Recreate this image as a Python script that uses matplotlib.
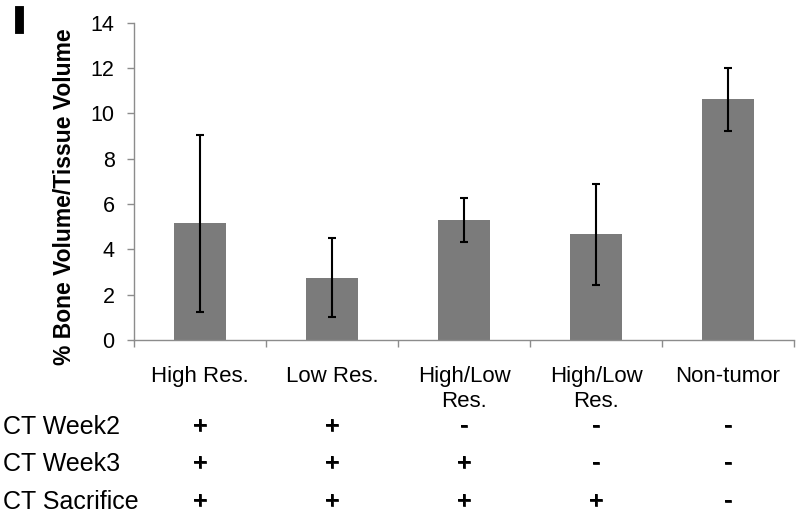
import matplotlib
matplotlib.use("Agg")
import matplotlib.pyplot as plt
import matplotlib.transforms as mtransforms
import matplotlib.patheffects as pe

# ---- data ----
categories = ["High Res.", "Low Res.", "High/Low\nRes.", "High/Low\nRes.", "Non-tumor"]
values = [5.15, 2.75, 5.30, 4.66, 10.62]
errors = [3.90, 1.73, 0.97, 2.23, 1.38]
row_labels = ["CT Week2", "CT Week3", "CT Sacrifice"]
row_marks = [
    ["+", "+", "-", "-", "-"],
    ["+", "+", "+", "-", "-"],
    ["+", "+", "+", "+", "-"],
]
yticks = [0, 2, 4, 6, 8, 10, 12, 14]
ylabel = "% Bone Volume/Tissue Volume"
panel_letter = "I"

plt.rcParams['font.family'] = ['Liberation Sans', 'DejaVu Sans']

W, H = 800, 517
fig = plt.figure(figsize=(W / 100, H / 100), dpi=100)
ax = fig.add_axes([134 / W, 1 - 340 / H, (794 - 134) / W, (340 - 22.7) / H])

x = list(range(len(categories)))
ax.bar(x, values, width=0.4, color="#7b7b7b", zorder=2)
ax.errorbar(x, values, yerr=errors, fmt="none", ecolor="black",
            elinewidth=1.5, capsize=3.2, capthick=1.5, zorder=3)

ax.set_xlim(-0.5, len(categories) - 0.5)
ax.set_ylim(0, 14)
ax.set_yticks(yticks)
ax.set_yticklabels([str(v) for v in yticks], fontsize=15.5)
ax.tick_params(axis="y", direction="out", length=5, width=1, color="#8c8c8c", pad=9)

ax.set_xticks([i - 0.5 for i in range(len(categories) + 1)])
ax.set_xticklabels([])
ax.tick_params(axis="x", direction="out", length=5, width=1, color="#8c8c8c")

for s in ["top", "right"]:
    ax.spines[s].set_visible(False)
for s in ["left", "bottom"]:
    ax.spines[s].set_color("#8c8c8c")
    ax.spines[s].set_linewidth(1)

def ypx(p):
    return 1 - p / H

trans = mtransforms.blended_transform_factory(ax.transData, fig.transFigure)

# category labels
for i, lab in enumerate(categories):
    for j, line in enumerate(lab.split("\n")):
        ax.text(i, ypx(382 + 25 * j), line, transform=trans, ha="center",
                va="baseline", fontsize=16, clip_on=False)

# row table
row_base = [434, 471, 509]
for r, (rl, marks) in enumerate(zip(row_labels, row_marks)):
    fig.text(3 / W, ypx(row_base[r]), rl, ha="left", va="baseline", fontsize=18)
    for i, m in enumerate(marks):
        ax.text(i, ypx(row_base[r] - 1), m, transform=trans, ha="center",
                va="baseline", fontsize=18, clip_on=False,
                path_effects=[pe.withStroke(linewidth=0.5, foreground="black")])

# y label
fig.text(65 / W, ypx(197), ylabel, rotation=90, ha="center", va="center",
         fontsize=16.5, fontweight="bold")

# panel letter
fig.text(19 / W, ypx(22), panel_letter, ha="center", va="center",
         fontsize=24, fontweight="bold",
         path_effects=[pe.Stroke(linewidth=3.5, foreground="black",
                                 joinstyle="miter", capstyle="projecting"),
                       pe.Normal()])

fig.savefig("out.png", dpi=100)
